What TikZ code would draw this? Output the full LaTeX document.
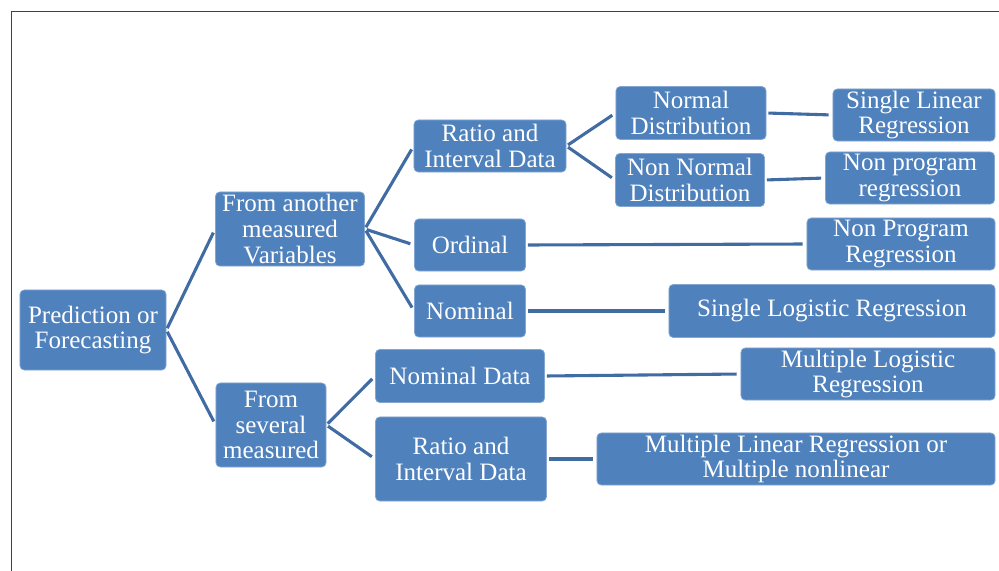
\documentclass[tikz,border=0pt]{standalone}
\usepackage{fontspec}
\setmainfont{Liberation Serif}
\usetikzlibrary{positioning}
\definecolor{box}{RGB}{79,129,189}
\definecolor{link}{RGB}{64,107,163}

\begin{document}
\begin{tikzpicture}[x=0.025cm, y=-0.025cm,
    leaf/.style={draw=box!70!white, line width=0.5pt, fill=box, rounded corners=3pt, text=white, align=center, inner sep=0pt, font=\fontsize{17.8pt}{18.3pt}\selectfont},
    link/.style={draw=link, line width=2.2pt, shorten >=0.1cm, shorten <=0.05cm},
]
\useasboundingbox (0,0) rectangle (999,571);
% Frame
\draw[black!75, line width=0.6pt] (11,571) -- (11,11) -- (999,11);

% Root and second level
\node[leaf, minimum width=3.65cm, minimum height=2cm] (pred) at (93,330) {Prediction or\\Forecasting};
\node[leaf, minimum width=3.725cm, minimum height=1.85cm] (another) at (290,229) {From another\\measured\\Variables};
\node[leaf, minimum width=2.75cm, minimum height=2.1cm] (several) at (271,425) {From\\several\\measured};

% Data types
\node[leaf, minimum width=3.8cm, minimum height=1.3cm] (ratio) at (490,146) {Ratio and\\Interval Data};
\node[leaf, minimum width=2.775cm, minimum height=1.3cm] (ordinal) at (470,245) {Ordinal};
\node[leaf, minimum width=2.775cm, minimum height=1.3cm] (nominal) at (470,311) {Nominal};
\node[leaf, minimum width=4.225cm, minimum height=1.325cm] (nomdata) at (460,376) {Nominal Data};
\node[leaf, minimum width=4.275cm, minimum height=2.1cm] (ratiob) at (461,459) {Ratio and\\Interval Data};

% Distributions
\node[leaf, minimum width=3.75cm, minimum height=1.325cm] (normal) at (691,113) {Normal\\Distribution};
\node[leaf, minimum width=3.725cm, minimum height=1.325cm] (nonnormal) at (690,180) {Non Normal\\Distribution};

% Methods
\node[leaf, minimum width=4.05cm, minimum height=1.3cm] (slr) at (914,115) {Single Linear\\Regression};
\node[leaf, minimum width=4.225cm, minimum height=1.3cm] (npr) at (910,178) {Non program\\regression};
\node[leaf, minimum width=4.7cm, minimum height=1.3cm] (nprb) at (901,244) {Non Program\\Regression};
\node[leaf, minimum width=8.15cm, minimum height=1.325cm] (slog) at (832,311) {Single Logistic Regression};
\node[leaf, minimum width=6.35cm, minimum height=1.3cm] (mlog) at (868,374) {Multiple Logistic\\Regression};
\node[leaf, minimum width=9.95cm, minimum height=1.3cm] (mlin) at (796,459) {Multiple Linear Regression or\\Multiple nonlinear};

% Links
\draw[link] (pred.east) -- (another.west);
\draw[link] (pred.east) -- (several.west);
\draw[link] (another.east) -- (ratio.west);
\draw[link] (another.east) -- (ordinal.west);
\draw[link] (another.east) -- (nominal.west);
\draw[link] (several.east) -- (nomdata.west);
\draw[link] (several.east) -- (ratiob.west);
\draw[link] (ratio.east) -- (normal.west);
\draw[link] (ratio.east) -- (nonnormal.west);
\draw[link] (normal.east) -- (slr.west);
\draw[link] (nonnormal.east) -- (npr.west);
\draw[link] (ordinal.east) -- (nprb.west);
\draw[link] (nominal.east) -- (slog.west);
\draw[link] (nomdata.east) -- (mlog.west);
\draw[link] (ratiob.east) -- (mlin.west);
\end{tikzpicture}
\end{document}
